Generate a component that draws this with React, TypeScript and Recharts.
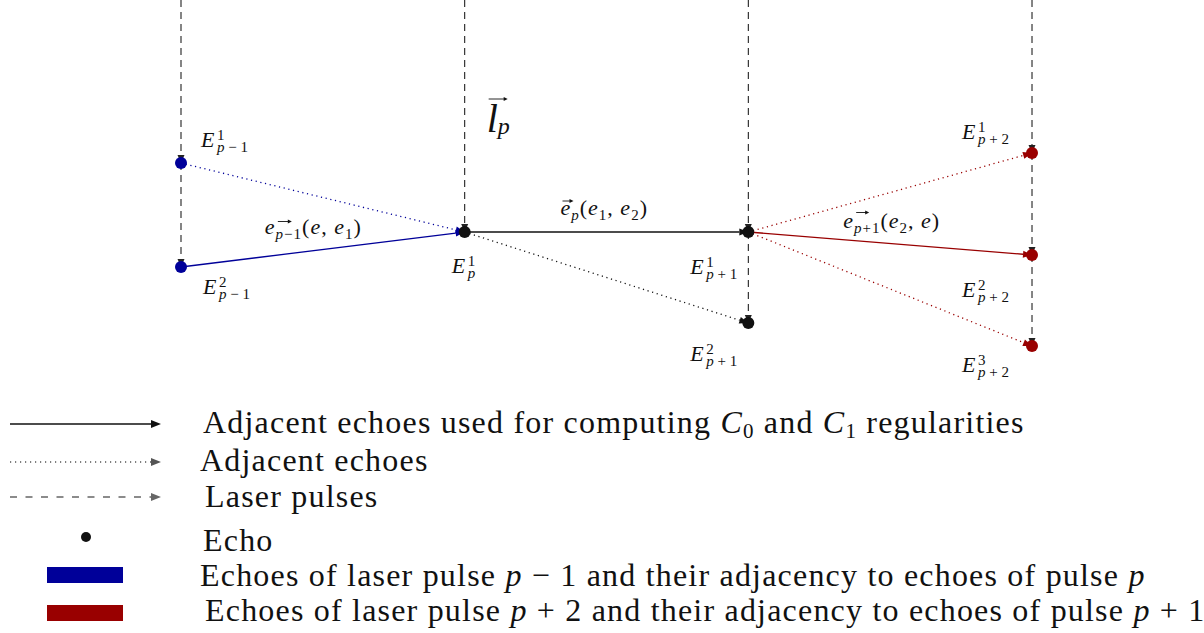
import React from "react";
import { ComposedChart, XAxis, YAxis, Scatter, ReferenceLine } from "recharts";

const BLUE = "#000099";
const RED = "#990000";
const INK = "#111111";
const GRAY = "#222222";
const SERIF = '"Liberation Serif", "DejaVu Serif", serif';

// laser pulses p-1, p, p+1, p+2 (x = pulse index)
const pulseNames = ["p-1", "p", "p+1", "p+2"];
const pulseIndex = [0, 1, 2, 3];

// echoes: pulse index and depth along the pulse
const echoIds = ["E1_pm1", "E2_pm1", "E1_p", "E1_pp1", "E2_pp1", "E1_pp2", "E2_pp2", "E3_pp2"];
const echoPulse = [0, 0, 1, 2, 2, 3, 3, 3];
const echoDepth = [1.63, 2.67, 2.32, 2.32, 3.23, 1.53, 2.55, 3.46];
const echoGroup = ["blue", "blue", "black", "black", "black", "red", "red", "red"];
const echoSup = ["1", "2", "1", "1", "2", "1", "2", "3"];
const echoSub = ["p - 1", "p - 1", "p", "p + 1", "p + 1", "p + 2", "p + 2", "p + 2"];

// adjacency between echoes
const edgeFrom = ["E2_pm1", "E1_pm1", "E1_p", "E1_p", "E1_pp1", "E1_pp1", "E1_pp1"];
const edgeTo = ["E1_p", "E1_p", "E1_pp1", "E2_pp1", "E2_pp2", "E1_pp2", "E3_pp2"];
const edgeKind = ["solid", "dotted", "solid", "dotted", "solid", "dotted", "dotted"];
const edgeGroup = ["blue", "blue", "black", "black", "red", "red", "red"];

// edge labels: [text, style]  i = italic, r = roman, si/sr = subscript
const edgeLabels: Record<number, [string, string][]> = {
  0: [["e", "i"], ["p", "si"], ["−1", "sr"], ["(", "r"], ["e", "i"], [", ", "r"], ["e", "i"], ["1", "sr"], [")", "r"]],
  2: [["e", "i"], ["p", "si"], ["(", "r"], ["e", "i"], ["1", "sr"], [", ", "r"], ["e", "i"], ["2", "sr"], [")", "r"]],
  4: [["e", "i"], ["p", "si"], ["+1", "sr"], ["(", "r"], ["e", "i"], ["2", "sr"], [", ", "r"], ["e", "i"], [")", "r"]],
};

const legendLabels: [string, string][][] = [
  [["Adjacent echoes used for computing ", "r"], ["C", "i"], ["0", "sr"], [" and ", "r"], ["C", "i"], ["1", "sr"], [" regularities", "r"]],
  [["Adjacent echoes", "r"]],
  [["Laser pulses", "r"]],
  [["Echo", "r"]],
  [["Echoes of laser pulse ", "r"], ["p", "i"], [" − 1 and their adjacency to echoes of pulse ", "r"], ["p", "i"]],
  [["Echoes of laser pulse ", "r"], ["p", "i"], [" + 2 and their adjacency to echoes of pulse ", "r"], ["p", "i"], [" + 1", "r"]],
];

const colorOf: Record<string, string> = { blue: BLUE, black: INK, red: RED };

// layout (pixels)
const W = 1204;
const H = 400;
const X0 = 181;
const XSTEP = 283.67;
const xDomain = [-X0 / XSTEP, (W - X0) / XSTEP];
const yDomain = [0, 4];

const echoLabelOffset: Record<string, [number, number]> = {
  E1_pm1: [20, -16],
  E2_pm1: [22, 27],
  E1_p: [-13, 41],
  E1_pp1: [-58, 42],
  E2_pp1: [-58, 38],
  E1_pp2: [-70, -14],
  E2_pp2: [-70, 42],
  E3_pp2: [-70, 26],
};
// [dx, dy] of text start from segment midpoint, vector arrow [x from, x to, dy]
const edgeLabelOffset: Record<number, number[]> = {
  0: [-58, -16, 13, 27, -12],
  2: [-46, -17, 2, 13, -14],
  4: [-47, -16, 13, 26, -15],
};

const echoes = echoIds.map((id, i) => ({
  id,
  pulse: echoPulse[i],
  depth: echoDepth[i],
  group: echoGroup[i],
  sup: echoSup[i],
  sub: echoSub[i],
}));
const echoById = (id: string) => echoes.find((e) => e.id === id)!;

// dashed pulse segments: from the top down through each echo of the pulse
const pulseSegments = pulseIndex.flatMap((p) => {
  const depths = echoes.filter((e) => e.pulse === p).map((e) => e.depth).sort((a, b) => a - b);
  const stops = [yDomain[0], ...depths];
  return depths.map((d, k) => ({ pulse: p, from: stops[k], to: d, first: k === 0 }));
});

function Tokens({ tokens, main, sub, shift }: { tokens: [string, string][]; main: number; sub: number; shift: number }) {
  let level = 0;
  return (
    <>
      {tokens.map(([t, s], i) => {
        const isSub = s === "si" || s === "sr";
        const target = isSub ? 1 : 0;
        const dy = (target - level) * shift;
        level = target;
        const italic = s === "i" || s === "si";
        return (
          <tspan key={i} dy={dy || undefined} fontSize={isSub ? sub : main} fontStyle={italic ? "italic" : "normal"}>
            {t}
          </tspan>
        );
      })}
    </>
  );
}

function VecArrow({ x1, x2, y }: { x1: number; x2: number; y: number }) {
  return (
    <g>
      <line x1={x1} y1={y} x2={x2 - 3} y2={y} stroke={INK} strokeWidth={0.9} />
      <polygon points={`${x2},${y} ${x2 - 4},${y - 2} ${x2 - 4},${y + 2}`} fill={INK} />
    </g>
  );
}

function ArrowLine(props: any) {
  const { x1, y1, x2, y2, color, width = 1, dash, head = 9, half = 3.5 } = props;
  const a = Math.atan2(y2 - y1, x2 - x1);
  const c = Math.cos(a);
  const s = Math.sin(a);
  const bx = x2 - head * c;
  const by = y2 - head * s;
  return (
    <g>
      <line x1={x1} y1={y1} x2={bx} y2={by} stroke={color} strokeWidth={width} strokeDasharray={dash} />
      <polygon points={`${x2},${y2} ${bx - half * s},${by + half * c} ${bx + half * s},${by - half * c}`} fill={color} />
    </g>
  );
}

function EdgeShape(props: any) {
  const { x1, y1, x2, y2, idx } = props;
  const kind = edgeKind[idx];
  const color = colorOf[edgeGroup[idx]];
  const tokens = edgeLabels[idx];
  const mx = (x1 + x2) / 2;
  const my = (y1 + y2) / 2;
  const off = edgeLabelOffset[idx];
  return (
    <g>
      <ArrowLine
        x1={x1}
        y1={y1}
        x2={x2}
        y2={y2}
        color={color}
        width={1.3}
        dash={kind === "dotted" ? "1.2 3.6" : undefined}
      />
      {tokens && (
        <g>
          <text x={mx + off[0]} y={my + off[1]} fill={INK} fontFamily={SERIF} letterSpacing={1}>
            <Tokens tokens={tokens} main={22} sub={15} shift={5} />
          </text>
          <VecArrow x1={mx + off[0] + off[2]} x2={mx + off[0] + off[3]} y={my + off[1] + off[4]} />
        </g>
      )}
    </g>
  );
}

function PulseShape(props: any) {
  const { x1, y1, x2, y2, seg } = props;
  return (
    <g>
      <ArrowLine x1={x1} y1={y1} x2={x2} y2={y2} color={GRAY} width={1.1} dash="7 5" head={8} half={3.5} />
      {seg.first && pulseNames[seg.pulse] === "p" && (
        <g fill={INK} fontFamily={SERIF}>
          <text x={x1 + 22} y={y2 - 100} fontSize={40} fontStyle="italic">l</text>
          <text x={x1 + 33} y={y2 - 98} fontSize={24} fontStyle="italic">p</text>
          <VecArrow x1={x1 + 24} x2={x1 + 43} y={y2 - 133} />
        </g>
      )}
    </g>
  );
}

function EchoDot(props: any) {
  const { cx, cy, payload } = props;
  const color = colorOf[payload.group];
  const [dx, dy] = echoLabelOffset[payload.id];
  const subParts = payload.sub.split(" ");
  return (
    <g>
      <circle cx={cx} cy={cy} r={6} fill={color} />
      <g fill={INK} fontFamily={SERIF}>
        <text x={cx + dx} y={cy + dy} fontSize={22} fontStyle="italic">E</text>
        <text x={cx + dx + 16} y={cy + dy - 7} fontSize={15}>{payload.sup}</text>
        <text x={cx + dx + 16} y={cy + dy + 5} fontSize={15}>
          <tspan fontStyle="italic">{subParts[0]}</tspan>
          {subParts.length > 1 ? ` ${subParts[1] === "-" ? "−" : subParts[1]} ${subParts[2]}` : ""}
        </text>
      </g>
    </g>
  );
}

function Legend() {
  const rows = [424, 462, 497, 537, 575, 613];
  const baselines = [433, 471, 507, 551, 586, 621];
  const textX = [203, 200, 205, 203, 200, 205];
  return (
    <svg width={W} height={233} style={{ position: "absolute", left: 0, top: 400 }}>
      <g transform="translate(0,-400)">
        <ArrowLine x1={10} y1={rows[0]} x2={161} y2={rows[0]} color={INK} width={1.3} head={10} half={4} />
        <ArrowLine x1={10} y1={rows[1]} x2={161} y2={rows[1]} color="#555" dash="1.2 3.8" width={1.3} head={10} half={4} />
        <ArrowLine x1={10} y1={rows[2]} x2={161} y2={rows[2]} color="#666" dash="7 8.5" width={1.6} head={10} half={4} />
        <circle cx={86} cy={rows[3]} r={5} fill={INK} />
        <rect x={47} y={567} width={76} height={16} fill={BLUE} />
        <rect x={47} y={605} width={76} height={16} fill={RED} />
        {legendLabels.map((tokens, i) => (
          <text key={i} x={textX[i]} y={baselines[i]} fill={INK} fontFamily={SERIF} letterSpacing={1.2}>
            <Tokens tokens={tokens} main={32} sub={21} shift={5} />
          </text>
        ))}
      </g>
    </svg>
  );
}

export default function App() {
  return (
    <div style={{ position: "absolute", left: 0, top: 0, width: W, height: 633, background: "#fff" }}>
      <ComposedChart width={W} height={H} margin={{ top: 0, right: 0, bottom: 0, left: 0 }}>
        <XAxis type="number" dataKey="pulse" domain={xDomain} allowDataOverflow hide />
        <YAxis type="number" dataKey="depth" domain={yDomain} reversed allowDataOverflow hide />
        {pulseSegments.map((seg, i) => (
          <ReferenceLine
            key={`pulse-${i}`}
            ifOverflow="visible"
            segment={[
              { x: seg.pulse, y: seg.from },
              { x: seg.pulse, y: seg.to },
            ]}
            stroke={GRAY}
            shape={(p: any) => <PulseShape {...p} seg={seg} />}
          />
        ))}
        {edgeFrom.map((f, i) => {
          const a = echoById(f);
          const b = echoById(edgeTo[i]);
          return (
            <ReferenceLine
              key={`edge-${i}`}
              ifOverflow="visible"
              segment={[
                { x: a.pulse, y: a.depth },
                { x: b.pulse, y: b.depth },
              ]}
              stroke={colorOf[edgeGroup[i]]}
              shape={(p: any) => <EdgeShape {...p} idx={i} />}
            />
          );
        })}
        {["blue", "black", "red"].map((g) => (
          <Scatter
            key={g}
            data={echoes.filter((e) => e.group === g)}
            fill={colorOf[g]}
            isAnimationActive={false}
            shape={(p: any) => <EchoDot {...p} />}
          />
        ))}
      </ComposedChart>
      <Legend />
    </div>
  );
}
